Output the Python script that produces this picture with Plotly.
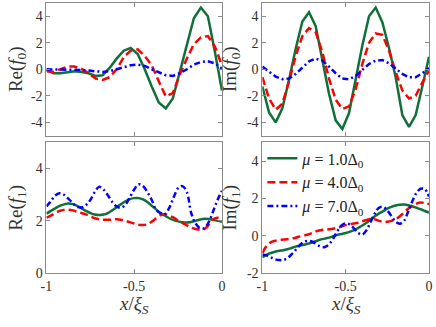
import plotly.graph_objects as go

# grid for the f0 curves (coarse, drawn with straight segments)
x_f0 = [-1.00, -0.96, -0.92, -0.88, -0.84, -0.80, -0.76, -0.72, -0.68, -0.64,
        -0.60, -0.56, -0.52, -0.48, -0.44, -0.40, -0.36, -0.32, -0.28, -0.24,
        -0.20, -0.16, -0.12, -0.08, -0.04, 0.00]

re_f0_mu1 = [-0.05, -0.3, -0.3, -0.2, -0.15, -0.2, -0.3, -0.5, -0.45, 0.1,
             0.8, 1.4, 1.6, 1.15, 0.0, -1.3, -2.5, -2.95, -2.2, -0.2,
             1.9, 3.85, 4.65, 4.0, 1.3, -1.6]
re_f0_mu4 = [-0.15, -0.2, 0.0, 0.2, 0.2, 0.03, -0.3, -0.7, -0.8, -0.6,
             0.0, 0.9, 1.4, 1.5, 1.0, 0.3, -0.9, -2.05, -1.8, -0.4,
             0.8, 1.9, 2.4, 2.5, 1.7, 0.3]
re_f0_mu7 = [0.0, 0.0, -0.05, -0.05, -0.05, -0.05, -0.1, -0.15, -0.2, -0.15,
             0.0, 0.2, 0.3, 0.35, 0.25, 0.0, -0.25, -0.45, -0.5, -0.3,
             0.0, 0.35, 0.55, 0.6, 0.45, 0.05]

im_f0_mu1 = [-1.3, -3.25, -4.0, -2.95, -0.8, 1.55, 3.6, 4.3, 3.25, 0.8,
             -1.85, -3.85, -4.5, -3.3, -0.8, 1.8, 4.0, 4.65, 3.55, 1.6,
             -0.6, -3.45, -4.35, -3.45, -1.3, 0.95]
im_f0_mu4 = [-0.6, -2.2, -3.05, -2.6, -0.9, 1.0, 2.5, 3.1, 2.8, 1.3,
             -0.7, -2.3, -3.0, -2.8, -1.5, 0.4, 2.0, 2.7, 2.6, 1.4,
             -0.2, -1.6, -2.2, -2.0, -1.0, -0.1]
im_f0_mu7 = [0.2, -0.2, -0.55, -0.75, -0.7, -0.35, 0.15, 0.6, 0.8, 0.65,
             0.2, -0.3, -0.7, -0.75, -0.5, -0.05, 0.4, 0.65, 0.7, 0.45,
             0.05, -0.35, -0.6, -0.6, -0.3, 0.1]

# finer grid for the f1 curves (smooth)
x_f1 = [-1.000, -0.975, -0.950, -0.925, -0.900, -0.875, -0.850, -0.825, -0.800, -0.775,
        -0.750, -0.725, -0.700, -0.675, -0.650, -0.625, -0.600, -0.575, -0.550, -0.525,
        -0.500, -0.475, -0.450, -0.425, -0.400, -0.375, -0.350, -0.325, -0.300, -0.275,
        -0.250, -0.225, -0.200, -0.175, -0.150, -0.125, -0.100, -0.075, -0.050, -0.025,
        0.000]

re_f1_mu1 = [2.27, 2.38, 2.48, 2.57, 2.63, 2.66, 2.64, 2.57, 2.48, 2.38,
             2.3, 2.24, 2.22, 2.24, 2.3, 2.4, 2.52, 2.64, 2.75, 2.83,
             2.87, 2.87, 2.82, 2.72, 2.58, 2.44, 2.3, 2.2, 2.1, 2.03,
             1.98, 1.95, 1.94, 1.96, 2.0, 2.05, 2.08, 2.07, 2.04, 2.0,
             1.97]
re_f1_mu4 = [2.12, 2.2, 2.3, 2.38, 2.42, 2.43, 2.4, 2.35, 2.3, 2.25,
             2.17, 2.1, 2.06, 2.04, 2.04, 2.05, 2.06, 2.04, 2.0, 1.95,
             1.9, 1.85, 1.84, 1.87, 1.97, 2.1, 2.22, 2.25, 2.2, 2.12,
             2.02, 1.92, 1.83, 1.74, 1.69, 1.67, 1.69, 1.85, 2.06, 2.12,
             2.05]
re_f1_mu7 = [2.55, 2.75, 2.97, 3.06, 3.0, 2.85, 2.68, 2.54, 2.51, 2.6,
             2.8, 3.1, 3.3, 3.2, 2.98, 2.72, 2.55, 2.5, 2.62, 2.9,
             3.2, 3.4, 3.33, 3.1, 2.8, 2.42, 2.3, 2.26, 2.5, 2.9,
             3.25, 3.33, 3.1, 2.3, 1.9, 1.72, 1.72, 1.95, 2.37, 2.8,
             3.15]

im_f1_mu1 = [-1.15, -1.02, -0.92, -0.85, -0.8, -0.77, -0.72, -0.65, -0.58, -0.53,
             -0.48, -0.42, -0.36, -0.28, -0.2, -0.15, -0.1, -0.02, 0.05, 0.1,
             0.15, 0.22, 0.3, 0.42, 0.55, 0.7, 0.88, 1.05, 1.2, 1.32,
             1.45, 1.55, 1.62, 1.66, 1.67, 1.64, 1.58, 1.5, 1.42, 1.33,
             1.25]
im_f1_mu4 = [-0.92, -0.55, -0.35, -0.27, -0.22, -0.2, -0.18, -0.15, -0.1, -0.03,
             0.02, 0.07, 0.15, 0.25, 0.3, 0.33, 0.35, 0.38, 0.43, 0.5,
             0.57, 0.62, 0.66, 0.7, 0.78, 0.85, 0.9, 0.88, 0.8, 0.74,
             0.75, 0.8, 0.9, 1.05, 1.25, 1.45, 1.6, 1.72, 1.78, 1.75,
             1.7]
im_f1_mu7 = [-1.0, -1.05, -1.15, -1.25, -1.3, -1.3, -1.2, -1.0, -0.75, -0.5,
             -0.32, -0.27, -0.32, -0.45, -0.58, -0.6, -0.45, -0.15, 0.25, 0.55,
             0.67, 0.6, 0.4, 0.15, 0.07, 0.3, 0.75, 1.2, 1.5, 1.55,
             1.35, 1.05, 0.75, 0.65, 0.8, 1.3, 1.85, 2.3, 2.52, 2.5,
             2.1]

mu_names = ["<i>μ</i> = 1.0Δ<sub>0</sub>", "<i>μ</i> = 4.0Δ<sub>0</sub>", "<i>μ</i> = 7.0Δ<sub>0</sub>"]
x_ticks = [-1, -0.5, 0]
x_ticktext = ["-1", "-0.5", "0"]

colors = ["#10703a", "#ff0000", "#0000ff"]
dashes = ["solid", "8px,4px", "6px,3px,2px,3px"]
serif = "Liberation Serif"
frame = "#8a8a8a"

fig = go.Figure()

panels = [
    ("x", "y", x_f0, [re_f0_mu1, re_f0_mu4, re_f0_mu7], "linear", False),
    ("x2", "y2", x_f0, [im_f0_mu1, im_f0_mu4, im_f0_mu7], "linear", False),
    ("x3", "y3", x_f1, [re_f1_mu1, re_f1_mu4, re_f1_mu7], "spline", False),
    ("x4", "y4", x_f1, [im_f1_mu1, im_f1_mu4, im_f1_mu7], "spline", True),
]
for xa, ya, xs, series, shape, legend in panels:
    for i, ys in enumerate(series):
        fig.add_trace(go.Scatter(
            x=xs, y=ys, xaxis=xa, yaxis=ya, mode="lines", name=mu_names[i],
            line=dict(color=colors[i], width=2.5, dash=dashes[i], shape=shape),
            showlegend=legend))

W, H = 436, 327
R = 7  # right margin so the last "0" tick label has room
PW = W - R
left_dom = [41 / PW, 219 / PW]
right_dom = [260 / PW, 429 / PW]
top_dom = [1 - 139 / H, 1 - 3 / H]
bot_dom = [1 - 280 / H, 1 - 146 / H]

def xaxis(dom, anchor, labels):
    return dict(domain=dom, anchor=anchor, range=[-1, 0], tickvals=x_ticks,
                ticktext=x_ticktext, showticklabels=labels, ticks="inside", ticklen=4,
                tickcolor=frame, showline=True, linecolor=frame, mirror="allticks",
                showgrid=False, zeroline=False, ticklabeloverflow="allow",
                tickfont=dict(family=serif, size=14, color="#303030"))

def yaxis(dom, anchor, rng, vals):
    return dict(domain=dom, anchor=anchor, range=rng, tickvals=vals,
                ticktext=[str(v) for v in vals], ticks="inside", ticklen=4,
                tickcolor=frame, showline=True, linecolor=frame, mirror="allticks",
                showgrid=False, zeroline=False,
                tickfont=dict(family=serif, size=14, color="#303030"))

fig.update_layout(
    width=W, height=H, margin=dict(l=0, r=R, t=0, b=0),
    plot_bgcolor="white", paper_bgcolor="white",
    xaxis=xaxis(left_dom, "y", False),
    xaxis2=xaxis(right_dom, "y2", False),
    xaxis3=xaxis(left_dom, "y3", True),
    xaxis4=xaxis(right_dom, "y4", True),
    yaxis=yaxis(top_dom, "x", [-5, 5], [-4, -2, 0, 2, 4]),
    yaxis2=yaxis(top_dom, "x2", [-5, 5], [-4, -2, 0, 2, 4]),
    yaxis3=yaxis(bot_dom, "x3", [0, 5], [0, 2, 4]),
    yaxis4=yaxis(bot_dom, "x4", [-2, 5], [-2, 0, 2, 4]),
    legend=dict(x=260 / PW, y=1 - 145 / H, xanchor="left", yanchor="top",
                bgcolor="rgba(0,0,0,0)", font=dict(family=serif, size=16, color="#222"),
                itemwidth=30),
)

title_font = dict(family=serif, size=19, color="#333")
ytitles = [
    ("Re(<i>f</i><sub>0</sub>)", 11, 71),
    ("Im(<i>f</i><sub>0</sub>)", 228, 71),
    ("Re(<i>f</i><sub>1</sub>)", 11, 213),
    ("Im(<i>f</i><sub>1</sub>)", 228, 213),
]
for text, px, py in ytitles:
    fig.add_annotation(text=text, x=px / PW, y=1 - py / H, xref="paper", yref="paper",
                       showarrow=False, textangle=-90, font=title_font,
                       xanchor="center", yanchor="middle")
for cx in [130, 344.5]:
    fig.add_annotation(text="<i>x</i>/<i>ξ</i><sub><i>S</i></sub>", x=cx / PW, y=1 - 313 / H,
                       xref="paper", yref="paper", showarrow=False, font=title_font,
                       xanchor="center", yanchor="middle")

# page body has a default 8px margin; drop it so the figure sits at the corner
fig.write_html("out.html", config={"displayModeBar": False},
               post_script="document.body.style.margin='0';")
